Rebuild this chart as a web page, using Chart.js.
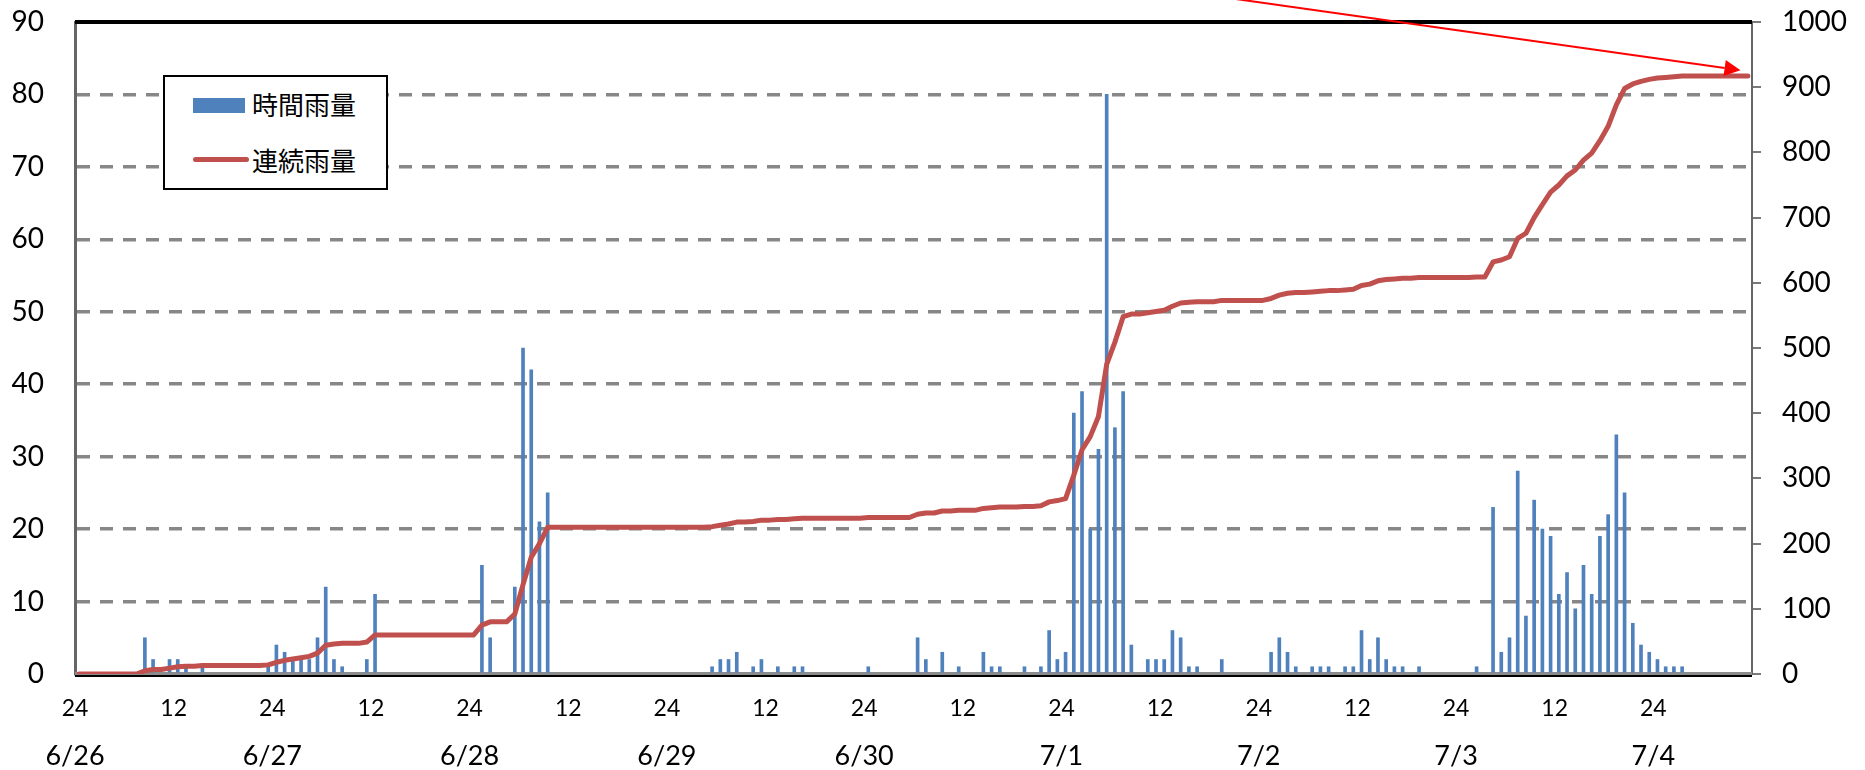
<!DOCTYPE html>
<html>
<head>
<meta charset="utf-8">
<title>時間雨量・連続雨量</title>
<script src="https://cdn.jsdelivr.net/npm/chart.js@4.4.1/dist/chart.umd.min.js"></script>
<style>
    body { margin: 0; background: #fff; }
    #wrap { position: relative; width: 1865px; height: 770px; }
    #legend {
        position: absolute; left: 163px; top: 75px; width: 221px; height: 111px;
        border: 2px solid #000; background: #fff;
        font-family: "Noto Sans CJK JP", sans-serif; font-size: 26px; color: #000;
    }
    .swatch { position: absolute; left: 28px; }
    .item { position: absolute; left: 87px; line-height: 30px; }
</style>
</head>
<body>
<div id="wrap">
    <canvas id="rainChart" width="1865" height="770"></canvas>
    <div id="legend">
        <div class="swatch" style="top:21px;width:52px;height:15px;background:#4F81BD"></div>
        <div class="item" style="top:12px">時間雨量</div>
        <div class="swatch" style="top:80px;width:56px;height:5px;border-radius:3px;background:#C0504D"></div>
        <div class="item" style="top:68px">連続雨量</div>
    </div>
</div>
<script>
// hour index 0 = the hour after 6/26 24時
const rainHours = [8, 9, 11, 12, 13, 15,
    23, 24, 25, 26, 27, 28, 29, 30, 31, 32, 35, 36,
    49, 50, 53, 54, 55, 56, 57,
    77, 78, 79, 80, 82, 83, 85, 87, 88,
    96, 102, 103, 105, 107, 110, 111, 112, 115, 117, 118, 119, 120,
    121, 122, 123, 124, 125, 126, 127, 128,
    130, 131, 132, 133, 134, 135, 136, 139,
    145, 146, 147, 148, 150, 151, 152, 154, 155, 156, 157, 158, 159, 160, 161, 163,
    170, 172, 173, 174, 175, 176, 177, 178, 179, 180, 181, 182, 183, 184, 185, 186, 187, 188, 189, 190, 191, 192, 193, 194, 195];
const rainMm = [5, 2, 2, 2, 1, 1,
    1, 4, 3, 2, 2, 2, 5, 12, 2, 1, 2, 11,
    15, 5, 12, 45, 42, 21, 25,
    1, 2, 2, 3, 1, 2, 1, 1, 1,
    1, 5, 2, 3, 1, 3, 1, 1, 1, 1, 6, 2, 3,
    36, 39, 20, 31, 80, 34, 39, 4,
    2, 2, 2, 6, 5, 1, 1, 2,
    3, 5, 3, 1, 1, 1, 1, 1, 1, 6, 2, 5, 2, 1, 1, 1,
    1, 23, 3, 5, 28, 8, 24, 20, 19, 11, 14, 9, 15, 11, 19, 22, 33, 25, 7, 4, 3, 2, 1, 1, 1];

// bends of the cumulative line (hour index, mm)
const totalHours = [0, 7, 8, 9, 10, 11, 12, 13, 14, 15, 22, 23, 24, 25, 26, 27, 28, 29, 30, 31, 32, 34, 35, 36,
    48, 49, 50, 52, 53, 54, 55, 56, 57,
    76, 77, 78, 79, 80, 81, 82, 83, 84, 85, 86, 87, 88, 95, 96,
    101, 102, 103, 104, 105, 106, 107, 109, 110, 111, 112, 114, 115, 116, 117, 118, 119, 120,
    121, 122, 123, 124, 125, 126, 127, 128, 129, 130, 131, 132, 133, 134, 135, 136, 138, 139,
    144, 145, 146, 147, 148, 149, 150, 151, 152, 153, 154, 155, 156, 157, 158, 159, 160, 161, 162, 163,
    169, 170, 171, 172, 173, 174, 175, 176, 177, 178, 179, 180, 181, 182, 183, 184, 185, 186, 187, 188,
    189, 190, 191, 192, 193, 194, 195, 203];
const totalMm = [0, 0, 5, 7, 7, 9, 11, 12, 12, 13, 13, 14, 18, 21, 23, 25, 27, 32, 44, 46, 47, 47, 49, 60,
    60, 75, 80, 80, 92, 137, 179, 200, 225,
    225, 226, 228, 230, 233, 233, 234, 236, 236, 237, 237, 238, 239, 239, 240,
    240, 245, 247, 247, 250, 250, 251, 251, 254, 255, 256, 256, 257, 257, 258, 264, 266, 269,
    305, 344, 364, 395, 475, 509, 548, 552, 552, 554, 556, 558, 564, 569, 570, 571, 571, 573,
    573, 576, 581, 584, 585, 585, 586, 587, 588, 588, 589, 590, 596, 598, 603, 605, 606, 607, 607, 608,
    608, 609, 609, 632, 635, 640, 668, 676, 700, 720, 739, 750, 764, 773, 788, 799, 818, 840, 873, 898,
    905, 909, 912, 914, 915, 916, 917, 917];

const dayLabels = ['6/26', '6/27', '6/28', '6/29', '6/30', '7/1', '7/2', '7/3', '7/4'];

// red arrow pointing at the final total (hour, right-axis mm)
const arrowFrom = [138, 1041];
const arrowTo = [202.6, 926];

const gridGrey = '#878787';

const framePlugin = {
    id: 'frame',
    beforeDatasetsDraw(chart) {
        const { ctx, chartArea: a } = chart;
        ctx.save();
        ctx.lineWidth = 3;
        ctx.strokeStyle = '#8c8c8c';
        ctx.beginPath();
        ctx.moveTo(a.left, a.bottom - 0.5);
        ctx.lineTo(a.right, a.bottom - 0.5);
        ctx.stroke();
        ctx.lineWidth = 2;
        ctx.strokeStyle = '#000';
        ctx.beginPath();
        ctx.moveTo(a.left, a.bottom + 2);
        ctx.lineTo(a.right, a.bottom + 2);
        ctx.stroke();
        ctx.lineWidth = 4;
        ctx.beginPath();
        ctx.moveTo(a.left, a.top);
        ctx.lineTo(a.right, a.top);
        ctx.stroke();
        ctx.restore();
    }
};

const arrowPlugin = {
    id: 'arrow',
    afterDraw(chart) {
        const { ctx, scales } = chart;
        const x1 = scales.x.getPixelForValue(arrowFrom[0]);
        const y1 = scales.y2.getPixelForValue(arrowFrom[1]);
        const x2 = scales.x.getPixelForValue(arrowTo[0]);
        const y2 = scales.y2.getPixelForValue(arrowTo[1]);
        const ang = Math.atan2(y2 - y1, x2 - x1);
        const len = 16, half = 8;
        ctx.save();
        ctx.strokeStyle = '#ff0000';
        ctx.fillStyle = '#ff0000';
        ctx.lineWidth = 2;
        ctx.beginPath();
        ctx.moveTo(x1, y1);
        ctx.lineTo(x2 - len * Math.cos(ang), y2 - len * Math.sin(ang));
        ctx.stroke();
        ctx.beginPath();
        ctx.moveTo(x2, y2);
        ctx.lineTo(x2 - len * Math.cos(ang) + half * Math.sin(ang), y2 - len * Math.sin(ang) - half * Math.cos(ang));
        ctx.lineTo(x2 - len * Math.cos(ang) - half * Math.sin(ang), y2 - len * Math.sin(ang) + half * Math.cos(ang));
        ctx.closePath();
        ctx.fill();
        ctx.restore();
    }
};

// fixed axis sizes so the plot area sits where it does in the original
function fixSize(prop, size) {
    return s => {
        s[prop] = size;
        s.paddingTop = 0;
        s.paddingBottom = 0;
        s.paddingLeft = 0;
        s.paddingRight = 0;
    };
}

const ctx = document.getElementById('rainChart').getContext('2d');
const rainChart = new Chart(ctx, {
    type: 'bar',
    data: {
        datasets: [{
            type: 'line',
            label: '連続雨量',
            data: totalHours.map((h, i) => ({ x: h + 0.5, y: totalMm[i] })),
            xAxisID: 'x',
            yAxisID: 'y2',
            borderColor: '#C0504D',
            borderWidth: 5,
            borderJoinStyle: 'round',
            borderCapStyle: 'round',
            pointRadius: 0,
            tension: 0,
            order: 0
        }, {
            label: '時間雨量',
            data: rainHours.map((h, i) => ({ x: h + 0.5, y: rainMm[i] })),
            xAxisID: 'x',
            yAxisID: 'y',
            backgroundColor: '#4F81BD',
            barThickness: 3,
            order: 1
        }]
    },
    options: {
        responsive: false,
        animation: false,
        layout: { padding: { top: 22, left: 0, right: 0, bottom: 0 } },
        plugins: {
            legend: { display: false },
            tooltip: { enabled: false }
        },
        scales: {
            x: {
                type: 'linear',
                position: 'bottom',
                min: 0,
                max: 204,
                offset: false,
                grid: { display: false, drawTicks: false, offset: false },
                border: { display: false },
                ticks: {
                    stepSize: 12,
                    includeBounds: false,
                    autoSkip: false,
                    maxRotation: 0,
                    padding: 21,
                    color: '#000',
                    font: { family: 'Lato', size: 23 },
                    callback: v => (v >= 204 ? '' : (v % 24 === 0 ? '24' : '12'))
                },
                afterFit: fixSize('height', 52)
            },
            x2: {
                type: 'linear',
                position: 'bottom',
                weight: 1,
                min: 0,
                max: 204,
                offset: false,
                grid: { display: false, drawTicks: false },
                border: { display: false },
                ticks: {
                    stepSize: 24,
                    includeBounds: false,
                    autoSkip: false,
                    maxRotation: 0,
                    padding: 14,
                    color: '#000',
                    font: { family: 'Lato', size: 27 },
                    callback: v => dayLabels[v / 24] || ''
                },
                afterFit: fixSize('height', 44)
            },
            y: {
                position: 'left',
                min: 0,
                max: 90,
                grid: {
                    color: c => (c.tick && (c.tick.value === 0 || c.tick.value === 90) ? 'rgba(0,0,0,0)' : gridGrey),
                    lineWidth: 3.6,
                    drawTicks: false
                },
                border: { display: true, color: '#666', width: 3, dash: [13, 10] },
                ticks: {
                    stepSize: 10,
                    padding: 31,
                    color: '#000',
                    font: { family: 'Lato', size: 28 }
                },
                afterFit: fixSize('width', 75)
            },
            y2: {
                position: 'right',
                min: 0,
                max: 1000,
                grid: {
                    drawOnChartArea: false,
                    drawTicks: true,
                    tickLength: 9,
                    color: '#7a7a7a',
                    lineWidth: 2
                },
                border: { display: true, color: '#666', width: 2 },
                ticks: {
                    stepSize: 100,
                    padding: 21,
                    color: '#000',
                    font: { family: 'Lato', size: 28 },
                    callback: v => String(v)
                },
                afterFit: fixSize('width', 113)
            }
        }
    },
    plugins: [framePlugin, arrowPlugin]
});
</script>
</body>
</html>
